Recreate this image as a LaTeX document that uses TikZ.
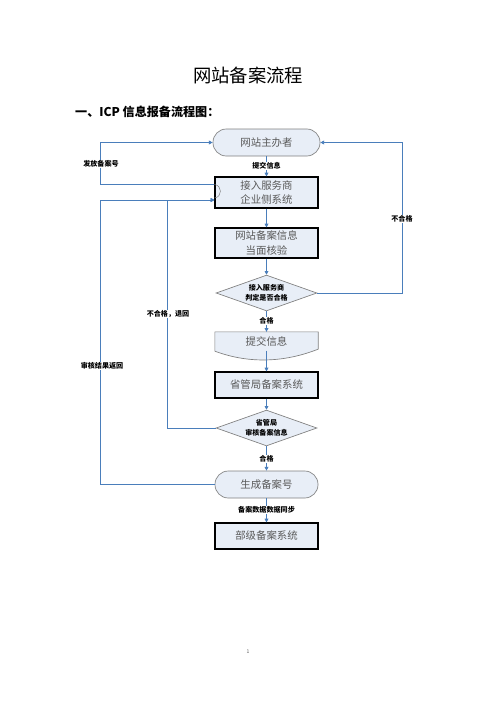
\documentclass[tikz,border=0pt]{standalone}
\usepackage{fontspec}
\setmainfont{Noto Sans CJK SC}
\usetikzlibrary{shapes.geometric,calc,arrows.meta}
\definecolor{flowblue}{HTML}{4A7EBB}
\definecolor{boxfill}{HTML}{E8EEF7}
\definecolor{boxtext}{HTML}{595959}
\definecolor{rimgray}{HTML}{7F7F7F}

\begin{document}
\begin{tikzpicture}[x=1.2pt,y=-1.2pt]
\tikzset{flow/.style = {draw=flowblue, line width=1pt, -{Triangle[width=4.5pt,length=4.5pt]}},
  sysbox/.style = {draw=black, line width=1.3pt, fill=boxfill, text=boxtext, minimum width=123.6pt, align=center, font=\fontsize{12.5}{17}\selectfont},
  endbox/.style = {draw=rimgray, line width=0.8pt, fill=boxfill, text=boxtext, minimum height=32.4pt, rounded corners=16pt, font=\fontsize{12.5}{17}\selectfont},
  check/.style = {draw=rimgray, line width=0.8pt, fill=boxfill, diamond, aspect=2.8, inner sep=0pt, minimum width=121pt, minimum height=43pt, align=center, font=\bfseries\fontsize{8.5}{12}\selectfont},
  lab/.style = {fill=white, inner sep=1pt, font=\bfseries\fontsize{8.5}{10}\selectfont}}
\useasboundingbox (0,0) rectangle (496,702);

% titles
\node (title) at (248,75) {\fontsize{22}{26}\selectfont 网站备案流程};
\node[anchor=west,inner sep=0pt] (head) at (75,112) {\bfseries\fontsize{14.5}{18}\selectfont 一、ICP 信息报备流程图：};

% boxes
\node[endbox, minimum width=128.4pt] (zhuban) at (266.5,142.5) {网站主办者};
\node[sysbox, minimum height=37.2pt] (jieru) at (266.5,192.5) {接入服务商\\企业侧系统};
\node[sysbox, minimum height=36pt] (heyan) at (266.5,243) {网站备案信息\\当面核验};
\node[check] (panding) at (266.5,293) {接入服务商\\判定是否合格};
\node[text=boxtext, minimum width=123.6pt, minimum height=22.8pt, inner sep=0pt, font=\fontsize{12.5}{17}\selectfont] (tijiao) at (266.5,341.5) {提交信息};
\filldraw[draw=rimgray, line width=0.8pt, fill=boxfill] (tijiao.south west) -- (tijiao.north west) -- (tijiao.north east) -- ($(tijiao.south east)+(0,-2)$) .. controls ($(tijiao.south east)+(-33,11)$) and ($(tijiao.south west)+(35,13)$) .. (tijiao.south west) -- cycle;
\node[text=boxtext, font=\fontsize{12.5}{17}\selectfont] at (tijiao) {提交信息};
\node[sysbox, minimum height=31.2pt] (shengju) at (266.5,385) {省管局备案系统};
\node[check] (shenhe) at (266.5,428) {省管局\\审核备案信息};
\node[endbox, minimum width=123.6pt] (shengcheng) at (266.5,484.5) {生成备案号};
\node[sysbox, minimum height=31.2pt] (buji) at (266.5,536) {部级备案系统};

% main flow
\draw[flow] (zhuban) -- (jieru);
\draw[flow] (jieru) -- (heyan);
\draw[flow] (heyan) -- (panding);
\draw[flow] (panding) -- (tijiao);
\draw[flow] ($(tijiao.south)+(0,-0.5)$) -- (shengju);
\draw[flow] (shengju) -- (shenhe);
\draw[flow] (shenhe) -- (shengcheng);
\draw[flow] (shengcheng) -- (buji);

% loops back
\draw[flow] (panding.east) -- ++(85,0) |- (zhuban.east);
\draw[flow] ($(jieru.west)+(0,-8.5)$) -- ++(-114,0) |- (zhuban.west);
\draw[flow] (shenhe.west) -- ++(-48,0) |- ($(jieru.west)+(0,7.5)$);
\draw[flow] (shengcheng.west) -- ++(-114,0) |- ($(jieru.west)+(0,7.5)$);
\draw[rimgray, line width=0.6pt] ($(jieru.west)+(0,-8)$) .. controls +(8,1) and +(8,-1) .. ($(jieru.west)+(0,5.5)$);

% labels
\node[lab] (l1) at (266.5,166) {提交信息};
\node[lab] (l2) at (101,164) {发放备案号};
\node[lab] (l3) at (402,219) {不合格};
\node[lab] (l4) at (168,314) {不合格，退回};
\node[lab] (l5) at (102,366) {审核结果返回};
\node[lab] (l6) at (266.5,321) {合格};
\node[lab] (l7) at (266.5,459) {合格};
\node[lab] (l8) at (266.5,510) {备案数据数据同步};

\node[text=boxtext, font=\fontsize{6}{7}\selectfont] (page) at (248,652) {1};
\end{tikzpicture}
\end{document}
